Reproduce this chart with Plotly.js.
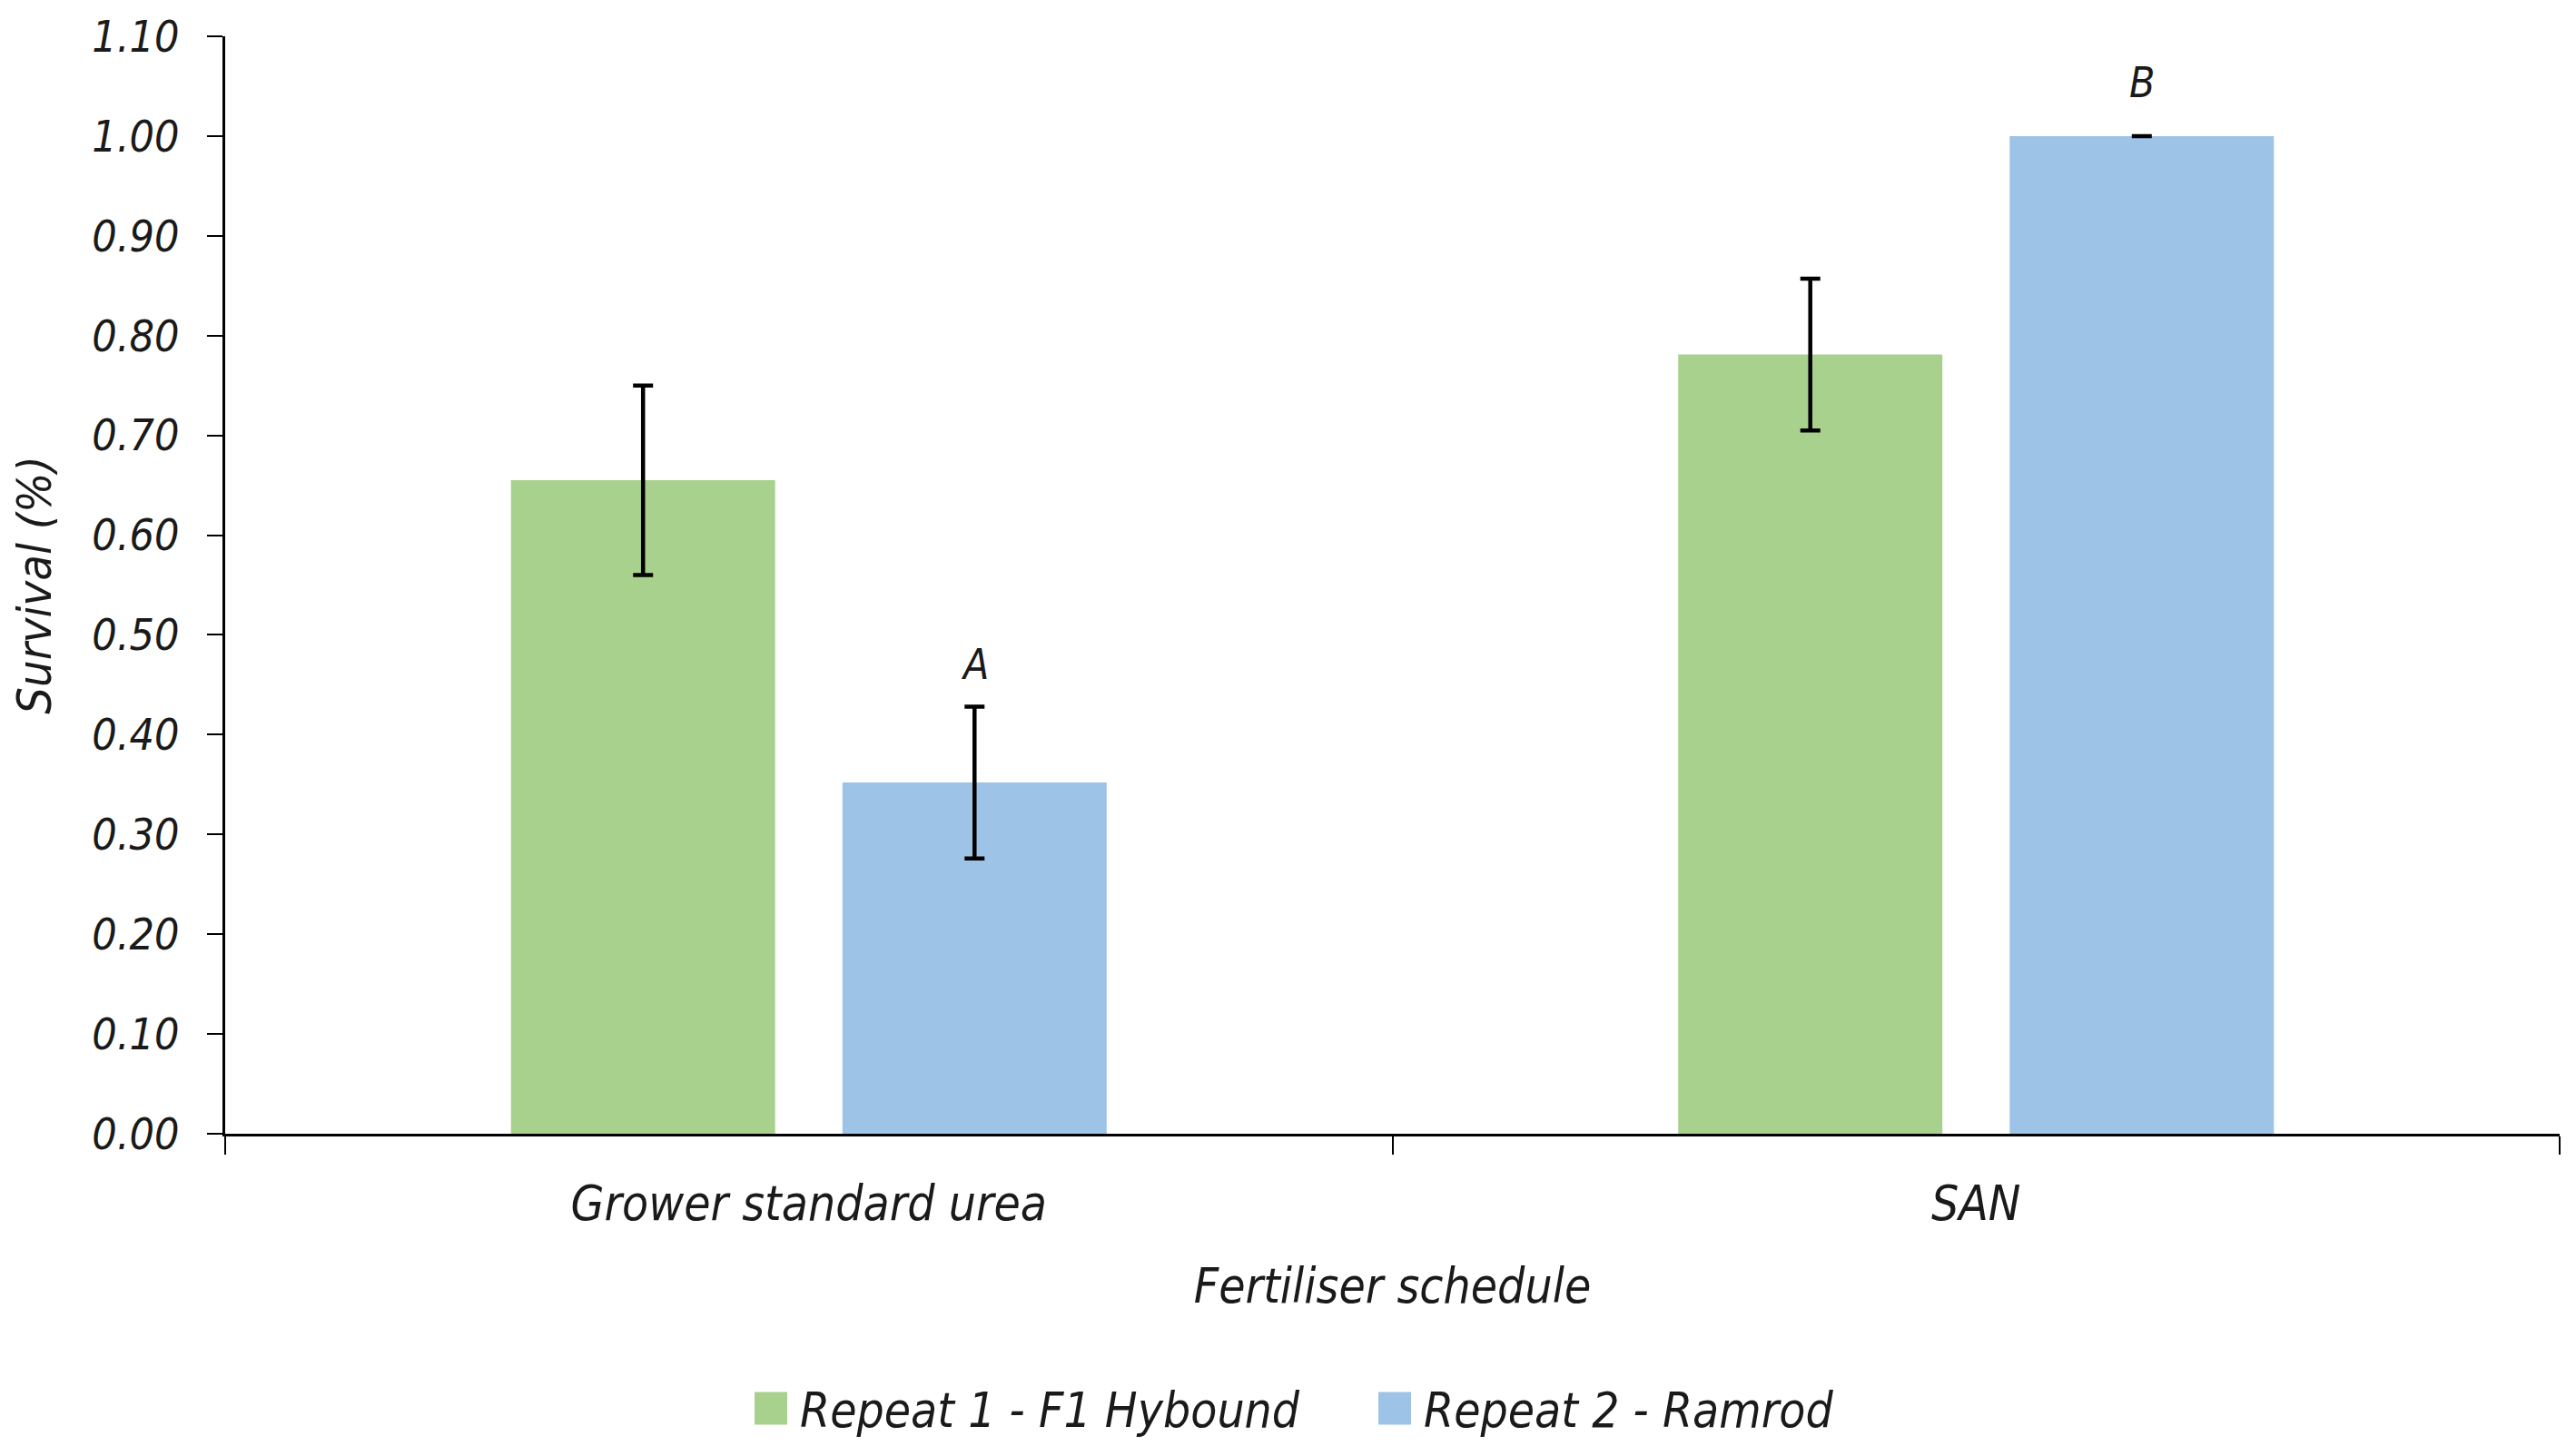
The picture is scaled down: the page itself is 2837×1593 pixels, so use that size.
<!DOCTYPE html>
<html>
<head>
<meta charset="utf-8">
<script src="https://cdn.plot.ly/plotly-3.0.1.min.js"></script>
<style>html,body{margin:0;padding:0;background:#fff;}#chart{width:2837px;height:1593px;}</style>
</head>
<body>
<div id="chart"></div>
<script>
const categories = ["Grower standard urea", "SAN"];
const seriesNames = ["Repeat 1 - F1 Hybound", "Repeat 2 - Ramrod"];
const repeat1 = [0.655, 0.781];
const repeat1Err = [0.095, 0.076];
const repeat2 = [0.352, 1.000];
const repeat2Err = [0.076, 0.000];
const letters = ["A", "B"];
const yTickVals = [0, 0.1, 0.2, 0.3, 0.4, 0.5, 0.6, 0.7, 0.8, 0.9, 1.0, 1.1];

const FONT = "Liberation Sans Narrow, DejaVu Sans Condensed, Arial Narrow, sans-serif";
const TXT = "#1a1a1a";
const W = 2837, H = 1593;
const margin = {l: 248, r: 18, t: 40, b: 344};
const bargap = 0.432, bargroupgap = 0.203;

const errStyle = {type: "data", visible: true, color: "#000", thickness: 4.5, width: 11};

const traces = [
  {type: "bar", name: seriesNames[0], x: categories, y: repeat1,
   marker: {color: "#A9D18E"},
   error_y: Object.assign({array: repeat1Err}, errStyle), hoverinfo: "skip"},
  {type: "bar", name: seriesNames[1], x: categories, y: repeat2,
   marker: {color: "#9DC3E6"},
   error_y: Object.assign({array: repeat2Err}, errStyle), hoverinfo: "skip"}
];

// offset of second bar centre from category centre, in px
const plotW = W - margin.l - margin.r;
const catW = plotW / categories.length;
const slot = catW * (1 - bargap) / 2;
const offsetPx = slot / 2;

const annotations = letters.map((t, i) => ({
  x: categories[i], y: repeat2[i] + repeat2Err[i], xref: "x", yref: "y",
  text: t, showarrow: false, xshift: offsetPx, yanchor: "bottom",
  yshift: i === 0 ? 18 : 30,
  font: {family: FONT, size: 46, color: TXT, style: "italic"}
}));

const layout = {
  width: W, height: H, margin: margin,
  paper_bgcolor: "#fff", plot_bgcolor: "#fff",
  font: {family: FONT, size: 48, color: TXT, style: "italic"},
  barmode: "group", bargap: bargap, bargroupgap: bargroupgap,
  showlegend: true,
  legend: {orientation: "h", xref: "container", yref: "container", x: 817 / W, xanchor: "left",
           y: 0.026, yanchor: "middle", font: {family: FONT, size: 53, color: TXT, style: "italic"},
           itemwidth: 54, entrywidth: 618, tracegroupgap: 0},
  xaxis: {type: "category", showline: true, linecolor: "#000", linewidth: 3,
          ticks: "outside", tickson: "boundaries", ticklen: 20, tickwidth: 2, tickcolor: "#000",
          ticklabelstandoff: 28, showgrid: false, zeroline: false,
          tickfont: {family: FONT, size: 53, color: TXT, style: "italic"},
          title: {text: "Fertiliser schedule", standoff: 44,
                  font: {family: FONT, size: 53, color: TXT, style: "italic"}}},
  yaxis: {range: [0, 1.1], tickvals: yTickVals, tickformat: ".2f",
          showline: true, linecolor: "#000", linewidth: 3, ticks: "outside", ticklen: 17,
          tickwidth: 2, tickcolor: "#000", showgrid: false, zeroline: false,
          ticklabelstandoff: 21,
          tickfont: {family: FONT, size: 48, color: TXT, style: "italic"},
          title: {text: "Survival (%)", standoff: 29,
                  font: {family: FONT, size: 52, color: TXT, style: "italic"}}},
  annotations: annotations
};

Plotly.newPlot("chart", traces, layout, {displayModeBar: false, staticPlot: true}).then(() => {
  document.querySelectorAll(".legend .legendpoints path").forEach(p => {
    p.setAttribute("d", "M18,18H-18V-18H18Z");
    p.style.strokeWidth = "0px";
  });
});
</script>
</body>
</html>
